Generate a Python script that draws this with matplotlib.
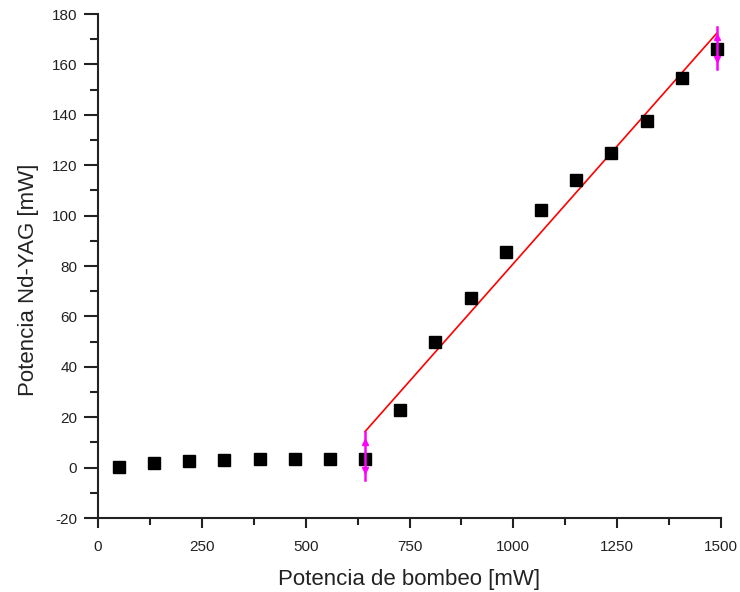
import matplotlib.pyplot as plt
import numpy as np
from matplotlib.ticker import MultipleLocator

plt.rcParams['font.family'] = ['Liberation Sans', 'DejaVu Sans']
plt.rcParams['axes.unicode_minus'] = False

# pump power [mW] and Nd-YAG output power [mW]
bombeo = [50, 135, 219, 304, 389, 474, 558, 643, 728, 812, 897, 982,
          1066, 1151, 1236, 1321, 1405, 1490]
nd_yag = [0.4, 1.9, 2.7, 3.1, 3.5, 3.5, 3.5, 3.5, 22.8, 50, 67.5, 85.5,
          102.3, 114, 125, 137.7, 154.7, 166.3]

# linear fit range (red line) and range markers
fit_x = [643, 1490]
fit_y = [14.3, 172.4]
selectors = [(643, 14.0, -5.0), (1490, 175.0, 158.0)]

fig = plt.figure(figsize=(7.4, 5.92), dpi=100)
ax = fig.add_axes([98 / 740, 1 - 518 / 592, 623 / 740, 504 / 592])

ax.plot(bombeo, nd_yag, 'ks', ms=8.5, zorder=3, clip_on=False)
ax.plot(fit_x, fit_y, color='red', lw=1.2, zorder=2, clip_on=False)

for xs, top, bot in selectors:
    ax.plot([xs, xs], [top, bot], color='magenta', lw=1.8, zorder=4,
            clip_on=False)
    ax.plot([xs], [top - 4], marker='^', color='magenta', ms=5, zorder=4,
            clip_on=False)
    ax.plot([xs], [bot + 4], marker='v', color='magenta', ms=5, zorder=4,
            clip_on=False)

ax.set_xlim(0, 1500)
ax.set_ylim(-20, 180)
ax.xaxis.set_major_locator(MultipleLocator(250))
ax.xaxis.set_minor_locator(MultipleLocator(125))
ax.yaxis.set_major_locator(MultipleLocator(20))
ax.yaxis.set_minor_locator(MultipleLocator(10))

for s in ['top', 'right']:
    ax.spines[s].set_visible(False)
for s in ['left', 'bottom']:
    ax.spines[s].set_linewidth(1.5)
    ax.spines[s].set_color('#222222')

ax.tick_params(which='major', direction='out', width=1.5,
               labelsize=11, colors='#222222')
ax.tick_params(which='minor', direction='out', width=1.5, colors='#222222')
ax.tick_params(axis='x', which='major', length=7, pad=9)
ax.tick_params(axis='x', which='minor', length=5)
ax.tick_params(axis='y', which='major', length=10, pad=5)
ax.tick_params(axis='y', which='minor', length=6)

ax.set_xlabel('Potencia de bombeo [mW]', fontsize=16, labelpad=11,
              color='#222222')
ax.set_ylabel('Potencia Nd-YAG [mW]', fontsize=16, color='#222222')
ax.yaxis.set_label_coords(-0.094, 0.472)

fig.savefig('out.png', dpi=100)
